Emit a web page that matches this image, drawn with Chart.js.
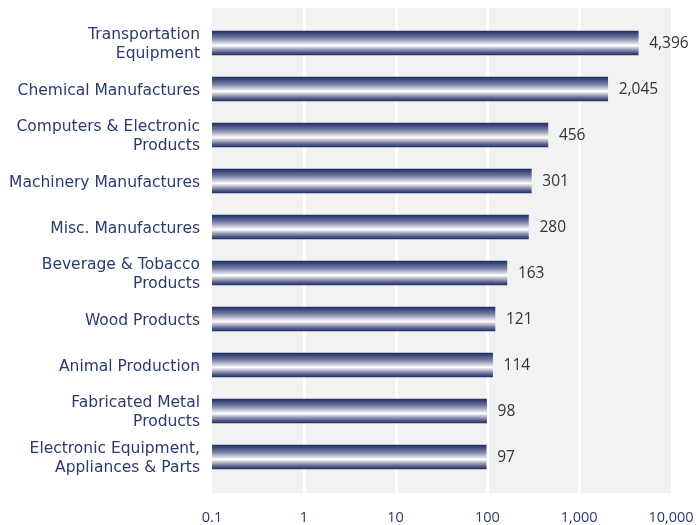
<!DOCTYPE html>
<html>
<head>
<meta charset="utf-8">
<script src="https://cdn.jsdelivr.net/npm/chart.js@4.4.0/dist/chart.umd.min.js"></script>
<style>
    body { margin: 0; background: #fff; }
    #wrap { width: 696px; height: 525px; }
</style>
</head>
<body>
<div id="wrap"><canvas id="myBarChart"></canvas></div>
<script>
const categories = [
    ['Transportation', 'Equipment'],
    'Chemical Manufactures',
    ['Computers & Electronic', 'Products'],
    'Machinery Manufactures',
    'Misc. Manufactures',
    ['Beverage & Tobacco', 'Products'],
    'Wood Products',
    'Animal Production',
    ['Fabricated Metal', 'Products'],
    ['Electronic Equipment,', 'Appliances & Parts']
];
const values = [4396, 2045, 456, 301, 280, 163, 121, 114, 98, 97];
const tickValues = [0.1, 1, 10, 100, 1000, 10000];
const tickLabels = ['0.1', '1', '10', '100', '1,000', '10,000'];

const navy = '#2b3a6e';

function barGradient(context) {
    const chart = context.chart;
    const yScale = chart.scales.y;
    if (!yScale || context.dataIndex === undefined) return navy;
    let y = yScale.getPixelForValue(context.dataIndex);
    if (!isFinite(y)) return navy;
    let g = chart.ctx.createLinearGradient(0, y - 12, 0, y + 12);
    g.addColorStop(0, '#1f2d66');
    g.addColorStop(0.3, '#7a80a6');
    g.addColorStop(0.6, '#ffffff');
    g.addColorStop(0.85, '#6b7199');
    g.addColorStop(1, '#1f2d66');
    return g;
}

// plot background + white gridlines (extend a bit beyond the category band)
const plotBackground = {
    id: 'plotBackground',
    beforeDatasetsDraw(chart) {
        const ctx = chart.ctx;
        const area = chart.chartArea;
        const x = chart.scales.x;
        const top = area.top - 12;
        const bottom = area.bottom + 13;
        ctx.save();
        ctx.fillStyle = '#f1f2f4';
        ctx.fillRect(area.left, top, area.right - area.left, bottom - top);
        ctx.strokeStyle = '#ffffff';
        ctx.lineWidth = 3;
        tickValues.forEach(function (v) {
            if (v === tickValues[0] || v === tickValues[tickValues.length - 1]) return;
            let px = Math.round(x.getPixelForValue(v)) + 0.5;
            ctx.beginPath();
            ctx.moveTo(px, top);
            ctx.lineTo(px, bottom);
            ctx.stroke();
        });
        ctx.restore();
    }
};

const valueLabels = {
    id: 'valueLabels',
    afterDatasetsDraw(chart) {
        const ctx = chart.ctx;
        const meta = chart.getDatasetMeta(0);
        ctx.save();
        ctx.font = '15.5px "Open Sans"';
        ctx.fillStyle = '#333333';
        ctx.textAlign = 'left';
        ctx.textBaseline = 'middle';
        meta.data.forEach(function (bar, i) {
            ctx.fillText(values[i].toLocaleString('en-US'), bar.x + 11, bar.y + 1);
        });
        ctx.restore();
    }
};

const data = {
    labels: categories,
    datasets: [{
        label: 'Value',
        data: values,
        backgroundColor: barGradient,
        borderWidth: 0,
        barThickness: 24,
        base: 0.1
    }]
};

const config = {
    type: 'bar',
    data: data,
    options: {
        indexAxis: 'y',
        responsive: true,
        maintainAspectRatio: false,
        animation: false,
        layout: {
            padding: { top: 20, right: 25, bottom: 0, left: 0 }
        },
        plugins: {
            legend: { display: false },
            tooltip: { enabled: false }
        },
        scales: {
            x: {
                type: 'logarithmic',
                min: 0.1,
                max: 10000,
                afterBuildTicks: function (scale) {
                    scale.ticks = tickValues.map(function (v) { return { value: v }; });
                },
                afterFit: function (scale) {
                    scale.height = 45;
                    scale.paddingLeft = 0;
                    scale.paddingRight = 0;
                },
                grid: { display: false, drawTicks: false },
                border: { display: false },
                ticks: {
                    padding: 29,
                    color: navy,
                    font: { family: 'Open Sans', size: 14.5 },
                    maxRotation: 0,
                    autoSkip: false,
                    callback: function (value) {
                        let i = tickValues.indexOf(value);
                        return i >= 0 ? tickLabels[i] : '';
                    }
                }
            },
            y: {
                afterFit: function (scale) {
                    scale.width = 212;
                    scale.paddingTop = 0;
                    scale.paddingBottom = 0;
                },
                grid: { display: false, drawTicks: false },
                border: { display: false },
                ticks: {
                    padding: 12,
                    labelOffset: 1.5,
                    color: navy,
                    font: { family: 'DejaVu Sans', size: 15.5, lineHeight: 1.23 }
                }
            }
        }
    },
    plugins: [plotBackground, valueLabels]
};

const ctx = document.getElementById('myBarChart').getContext('2d');
new Chart(ctx, config);
</script>
</body>
</html>
